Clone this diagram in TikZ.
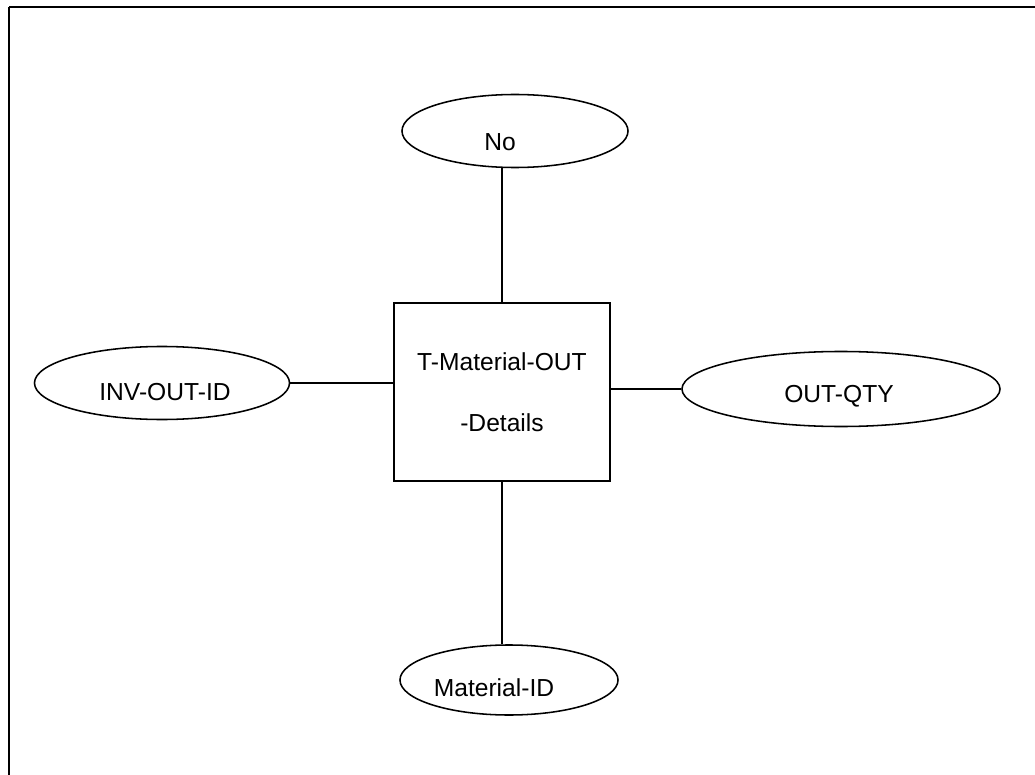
\documentclass[tikz,border=0pt]{standalone}
\usepackage{fontspec}
\setmainfont{Liberation Sans}
\usetikzlibrary{shapes.geometric}

\begin{document}
\begin{tikzpicture}[x=0.025cm, y=-0.025cm,
    attr/.style={draw, ellipse, line width=1.1pt, inner sep=0pt},
    lbl/.style={font=\fontsize{17.5}{20}\selectfont, inner sep=0pt},
    entity/.style={draw, line width=1.1pt, minimum width=5.4cm, minimum height=4.45cm,
        align=center, font=\fontsize{17.5}{43}\selectfont}]
    \clip (0,0) rectangle (1035,775);
    % page frame, cut off at the right and bottom
    \draw[line width=1.8pt] (9,7) -- (1100,7);
    \draw[line width=1.8pt] (9,7) -- (9,830);

    \node[entity] (tmat) at (502,392) {T-Material-OUT\\-Details};

    % Attributes
    \node[attr, minimum width=5.65cm, minimum height=1.825cm,
        label={[lbl, xshift=-0.375cm, yshift=-0.275cm]center:No}] (no) at (515,131) {};
    \node[attr, minimum width=6.375cm, minimum height=1.825cm,
        label={[lbl, xshift=0.075cm, yshift=-0.225cm]center:INV-OUT-ID}] (inv) at (162,383) {};
    \node[attr, minimum width=7.95cm, minimum height=1.875cm,
        label={[lbl, xshift=-0.05cm, yshift=-0.175cm]center:OUT-QTY}] (qty) at (841,389) {};
    \node[attr, minimum width=5.45cm, minimum height=1.75cm,
        label={[lbl, xshift=-0.375cm, yshift=-0.2cm]center:Material-ID}] (mat) at (509,680) {};

    \draw[line width=1.1pt] (tmat.north) -- (tmat.north |- no.south);
    \draw[line width=1.1pt] (tmat.south) -- (tmat.south |- mat.north);
    \draw[line width=1.1pt] (inv.east) -- (inv.east -| tmat.west);
    \draw[line width=1.1pt] (qty.west) -- (qty.west -| tmat.east);
\end{tikzpicture}
\end{document}
